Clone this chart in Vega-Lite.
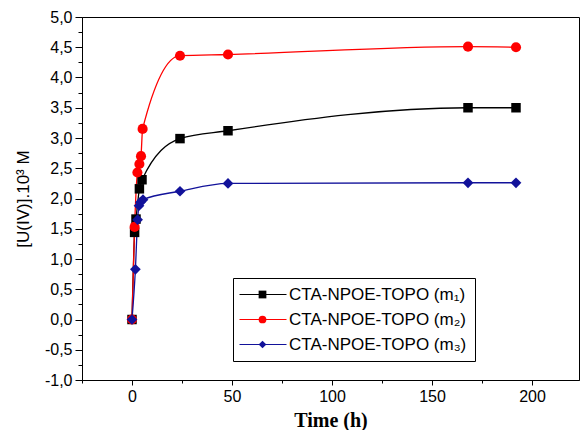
{
  "$schema": "https://vega.github.io/schema/vega-lite/v6.json",
  "width": 497,
  "height": 363,
  "autosize": {"type": "none"},
  "padding": {"left": 82, "top": 17, "right": 2, "bottom": 50},
  "background": "white",
  "config": {
    "view": {"stroke": "black", "strokeWidth": 1},
    "axis": {"grid": false, "domainColor": "black", "tickColor": "black", "labelColor": "black", "titleColor": "black"}
  },
  "data": {
    "values": [
      {"series": "CTA-NPOE-TOPO (m₁)", "t": 0, "c": 0},
      {"series": "CTA-NPOE-TOPO (m₁)", "t": 1.3, "c": 1.44},
      {"series": "CTA-NPOE-TOPO (m₁)", "t": 2, "c": 1.66},
      {"series": "CTA-NPOE-TOPO (m₁)", "t": 3.7, "c": 2.16},
      {"series": "CTA-NPOE-TOPO (m₁)", "t": 5, "c": 2.31},
      {"series": "CTA-NPOE-TOPO (m₁)", "t": 24, "c": 2.99},
      {"series": "CTA-NPOE-TOPO (m₁)", "t": 48, "c": 3.12},
      {"series": "CTA-NPOE-TOPO (m₁)", "t": 168, "c": 3.5},
      {"series": "CTA-NPOE-TOPO (m₁)", "t": 192, "c": 3.5},
      {"series": "CTA-NPOE-TOPO (m₂)", "t": 0, "c": 0},
      {"series": "CTA-NPOE-TOPO (m₂)", "t": 1.3, "c": 1.53},
      {"series": "CTA-NPOE-TOPO (m₂)", "t": 2.7, "c": 2.43},
      {"series": "CTA-NPOE-TOPO (m₂)", "t": 3.7, "c": 2.57},
      {"series": "CTA-NPOE-TOPO (m₂)", "t": 4.5, "c": 2.7},
      {"series": "CTA-NPOE-TOPO (m₂)", "t": 5.3, "c": 3.15},
      {"series": "CTA-NPOE-TOPO (m₂)", "t": 24, "c": 4.36},
      {"series": "CTA-NPOE-TOPO (m₂)", "t": 48, "c": 4.38},
      {"series": "CTA-NPOE-TOPO (m₂)", "t": 168, "c": 4.51},
      {"series": "CTA-NPOE-TOPO (m₂)", "t": 192, "c": 4.5},
      {"series": "CTA-NPOE-TOPO (m₃)", "t": 0, "c": 0},
      {"series": "CTA-NPOE-TOPO (m₃)", "t": 1.7, "c": 0.83},
      {"series": "CTA-NPOE-TOPO (m₃)", "t": 2.8, "c": 1.65},
      {"series": "CTA-NPOE-TOPO (m₃)", "t": 3.5, "c": 1.88},
      {"series": "CTA-NPOE-TOPO (m₃)", "t": 4.2, "c": 1.94},
      {"series": "CTA-NPOE-TOPO (m₃)", "t": 5.5, "c": 1.98},
      {"series": "CTA-NPOE-TOPO (m₃)", "t": 24, "c": 2.12},
      {"series": "CTA-NPOE-TOPO (m₃)", "t": 48, "c": 2.25},
      {"series": "CTA-NPOE-TOPO (m₃)", "t": 168, "c": 2.26},
      {"series": "CTA-NPOE-TOPO (m₃)", "t": 192, "c": 2.26}
    ]
  },
  "encoding": {
    "x": {
      "field": "t", "type": "quantitative",
      "scale": {"domain": [-25, 223.5], "nice": false, "zero": false},
      "axis": {
        "title": "Time (h)",
        "titleFont": "Liberation Serif", "titleFontWeight": "bold", "titleFontSize": 20, "titlePadding": 6,
        "values": [-25, 0, 25, 50, 75, 100, 125, 150, 175, 200],
        "labelExpr": "datum.value % 50 === 0 ? format(datum.value, 'd') : ''",
        "labelFont": "Liberation Sans", "labelFontSize": 16, "labelPadding": 3,
        "tickSize": {"condition": {"test": "datum.value % 50 !== 0", "value": 3}, "value": 5},
        "labelFlush": false, "labelOverlap": false
      }
    },
    "y": {
      "field": "c", "type": "quantitative",
      "scale": {"domain": [-1, 5], "nice": false, "zero": false},
      "axis": {
        "title": "[U(IV)].10³ M",
        "titleFont": "Liberation Sans", "titleFontWeight": "normal", "titleFontSize": 17, "titlePadding": 12,
        "values": [-1, -0.75, -0.5, -0.25, 0, 0.25, 0.5, 0.75, 1, 1.25, 1.5, 1.75, 2, 2.25, 2.5, 2.75, 3, 3.25, 3.5, 3.75, 4, 4.25, 4.5, 4.75, 5],
        "labelExpr": "abs(round(datum.value * 4)) % 2 === 1 ? '' : replace(replace(format(datum.value, '.1f'), '.', ','), '−', '-')",
        "labelFont": "Liberation Sans", "labelFontSize": 16, "labelPadding": 3,
        "tickSize": {"condition": {"test": "abs(round(datum.value * 4)) % 2 === 1", "value": 4}, "value": 7},
        "labelFlush": false, "labelOverlap": false
      }
    }
  },
  "layer": [
    {
      "mark": {"type": "line", "interpolate": "monotone", "strokeWidth": 1.3},
      "encoding": {
        "stroke": {
          "field": "series", "type": "nominal",
          "scale": {
            "domain": ["CTA-NPOE-TOPO (m₁)", "CTA-NPOE-TOPO (m₂)", "CTA-NPOE-TOPO (m₃)"],
            "range": ["#000000", "#ff0000", "#12129a"]
          },
          "legend": {
            "title": null,
            "orient": "none",
            "legendX": 151,
            "legendY": 261,
            "strokeColor": "black",
            "padding": 8,
            "rowPadding": 7,
            "symbolSize": 64,
            "symbolType": "M-2.5,0H9.25",
            "symbolStrokeWidth": 1.2,
            "labelOffset": 31,
            "labelFont": "Liberation Sans",
            "labelFontSize": 17,
            "labelLimit": 400,
            "labelColor": "black"
          }
        }
      }
    },
    {
      "mark": {"type": "point", "filled": true, "opacity": 1},
      "encoding": {
        "shape": {
          "field": "series", "type": "nominal",
          "scale": {"range": ["square", "circle", "diamond"]}
        },
        "size": {
          "field": "series", "type": "nominal",
          "scale": {
            "domain": ["CTA-NPOE-TOPO (m₃)", "CTA-NPOE-TOPO (m₂)", "CTA-NPOE-TOPO (m₁)"],
            "range": [115, 90, 85]
          },
          "legend": null
        },
        "color": {
          "field": "series", "type": "nominal",
          "scale": {"range": ["#000000", "#ff0000", "#12129a"]},
          "legend": {
            "title": null,
            "orient": "none",
            "legendX": 151,
            "legendY": 261,
            "padding": 8,
            "rowPadding": 7,
            "symbolSize": 60,
            "symbolOffset": 13,
            "labelOffset": 25,
            "labelFont": "Liberation Sans",
            "labelFontSize": 17,
            "labelLimit": 400,
            "labelOpacity": 0
          }
        }
      }
    }
  ]
}
